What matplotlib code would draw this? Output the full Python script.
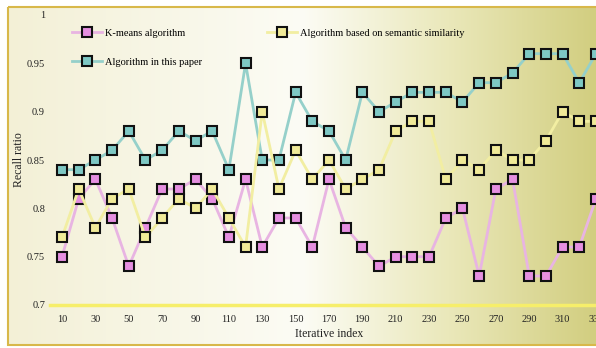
import numpy as np
import matplotlib.pyplot as plt
from matplotlib.patches import Rectangle

plt.rcParams['font.family'] = ['Liberation Serif', 'DejaVu Serif']

# ------------------------------------------------------------
# data
# ------------------------------------------------------------
iterations = list(range(10, 331, 10))

kmeans = [0.75, 0.81, 0.83, 0.79, 0.74, 0.78, 0.82, 0.82, 0.83, 0.81,
          0.77, 0.83, 0.76, 0.79, 0.79, 0.76, 0.83, 0.78, 0.76, 0.74,
          0.75, 0.75, 0.75, 0.79, 0.80, 0.73, 0.82, 0.83, 0.73, 0.73,
          0.76, 0.76, 0.81]

semantic = [0.77, 0.82, 0.78, 0.81, 0.82, 0.77, 0.79, 0.81, 0.80, 0.82,
            0.79, 0.76, 0.90, 0.82, 0.86, 0.83, 0.85, 0.82, 0.83, 0.84,
            0.88, 0.89, 0.89, 0.83, 0.85, 0.84, 0.86, 0.85, 0.85, 0.87,
            0.90, 0.89, 0.89]

paper = [0.84, 0.84, 0.85, 0.86, 0.88, 0.85, 0.86, 0.88, 0.87, 0.88,
         0.84, 0.95, 0.85, 0.85, 0.92, 0.89, 0.88, 0.85, 0.92, 0.90,
         0.91, 0.92, 0.92, 0.92, 0.91, 0.93, 0.93, 0.94, 0.96, 0.96,
         0.96, 0.93, 0.96]

x_ticks = list(range(10, 331, 20))
y_ticks = [0.7, 0.75, 0.8, 0.85, 0.9, 0.95, 1.0]
y_tick_labels = ["0.7", "0.75", "0.8", "0.85", "0.9", "0.95", "1"]

W, H = 596, 348
fig = plt.figure(figsize=(W / 100, H / 100), dpi=100)

# ------------------------------------------------------------
# background: cream -> white -> olive gradient with a gold frame
# ------------------------------------------------------------
bg = fig.add_axes([0, 0, 1, 1], zorder=-5)
bg.set_xlim(0, W)
bg.set_ylim(H, 0)
bg.axis("off")

stops = np.array([[243, 240, 214], [252, 252, 245], [234, 232, 186], [210, 206, 128]]) / 255
stop_pos = [0.0, 0.5, 0.75, 1.0]
t = np.linspace(0, 1, 400)
grad = np.stack([np.interp(t, stop_pos, stops[:, c]) for c in range(3)], axis=-1)
grad = np.tile(grad[np.newaxis, :, :], (2, 1, 1))
bg.imshow(grad, extent=[8, W, 345, 7], aspect="auto")
bg.add_patch(Rectangle((8, 7), W + 10, 338, fill=False, edgecolor="#d8b84a", linewidth=1.5))

# ------------------------------------------------------------
# main chart
# ------------------------------------------------------------
ax_left, ax_right = 52, 606
ax_top, ax_bottom = 15, 305
ax = fig.add_axes([ax_left / W, (H - ax_bottom) / H,
                   (ax_right - ax_left) / W, (ax_bottom - ax_top) / H])
ax.patch.set_alpha(0)

style = dict(marker="s", markersize=7, markeredgecolor="#111111",
             markeredgewidth=1.5, linewidth=2)
ax.plot(iterations, kmeans, color="#e8b4e2", markerfacecolor="#e58fe0",
        label="K-means algorithm", **style)
ax.plot(iterations, paper, color="#95d0ca", markerfacecolor="#7ec8c4",
        label="Algorithm in this paper", **style)
ax.plot(iterations, semantic, color="#f2eea2", markerfacecolor="#f0ea98",
        label="Algorithm based on semantic similarity", **style)

ax.set_xlim(4, 336)
ax.set_ylim(0.7, 1.0)
ax.set_xticks(x_ticks)
ax.set_yticks(y_ticks)
ax.set_yticklabels(y_tick_labels)
ax.tick_params(length=0, labelsize=7.5, colors="#222222")
ax.tick_params(axis="y", pad=5)
ax.tick_params(axis="x", pad=7)

for side in ["top", "right", "left"]:
    ax.spines[side].set_visible(False)
ax.spines["bottom"].set_color("#f6ee6a")
ax.spines["bottom"].set_linewidth(2.5)
ax.spines["bottom"].set_bounds(3, 336)

ax.set_xlabel("Iterative index", fontsize=8.5, color="#222222", labelpad=3)
ax.set_ylabel("Recall ratio", fontsize=8.5, color="#222222", labelpad=1)

ax.legend(ncol=2, loc="upper left", bbox_to_anchor=(0.02, 0.985), frameon=False,
          fontsize=7.5, handlelength=2.8, columnspacing=6.3, labelspacing=1.85,
          handletextpad=0.3)

fig.savefig("out.png", dpi=100)
